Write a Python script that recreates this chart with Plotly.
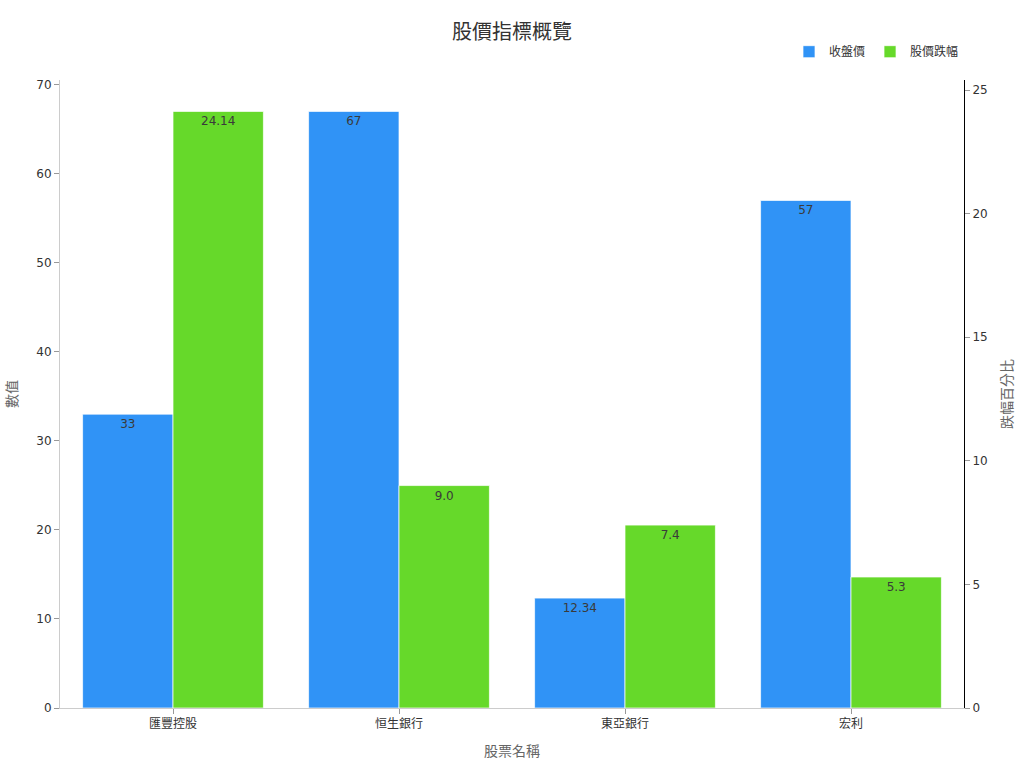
import plotly.graph_objects as go

stocks = ["匯豐控股", "恒生銀行", "東亞銀行", "宏利"]
close_price = [33, 67, 12.34, 57]
drop_pct = [24.14, 9.0, 7.4, 5.3]
close_labels = ["33", "67", "12.34", "57"]
drop_labels = ["24.14", "9.0", "7.4", "5.3"]

FONT = "DejaVu Sans, Noto Sans CJK TC, sans-serif"

fig = go.Figure()
fig.add_trace(go.Bar(
    x=stocks, y=close_price, name="收盤價",
    marker=dict(color="#3093f6", line=dict(color="rgba(255,255,255,0.7)", width=1)),
    text=close_labels, textposition="inside", insidetextanchor="end",
    textfont=dict(color="#3a3a3a", size=12), offsetgroup="a",
))
fig.add_trace(go.Bar(
    x=stocks, y=drop_pct, name="股價跌幅", yaxis="y2",
    marker=dict(color="#66d92a", line=dict(color="rgba(255,255,255,0.7)", width=1)),
    text=drop_labels, textposition="inside", insidetextanchor="end",
    textfont=dict(color="#3a3a3a", size=12), offsetgroup="b",
))

fig.update_layout(
    width=1024, height=768,
    margin=dict(l=60, r=60, t=80, b=60),
    paper_bgcolor="white", plot_bgcolor="white",
    font=dict(family=FONT, color="#333333", size=12),
    title=dict(text="股價指標概覽", x=0.5, xanchor="center", y=0.958, yanchor="middle",
               font=dict(size=20, color="#333333")),
    barmode="group", bargap=0.2, bargroupgap=0,
    legend=dict(orientation="h", x=1.0, xanchor="right", y=1.022, yanchor="bottom",
                font=dict(size=12), bgcolor="rgba(0,0,0,0)"),
    xaxis=dict(title=dict(text="股票名稱", font=dict(size=14, color="#666666")),
               showline=True, linecolor="#cccccc", linewidth=1,
               ticks="outside", tickcolor="#999999", ticklen=5, showgrid=False),
    yaxis=dict(title=dict(text="數值", font=dict(size=14, color="#666666")),
               showline=True, linecolor="#cccccc", linewidth=1,
               ticks="outside", tickcolor="#999999", ticklen=5, showgrid=False,
               zeroline=False, dtick=10),
    yaxis2=dict(title=dict(text="跌幅百分比", font=dict(size=14, color="#666666")),
                overlaying="y", side="right",
                showline=True, linecolor="#000000", linewidth=1,
                ticks="outside", tickcolor="#999999", ticklen=5, showgrid=False,
                zeroline=False, dtick=5),
)

fig.write_html("out.html")
